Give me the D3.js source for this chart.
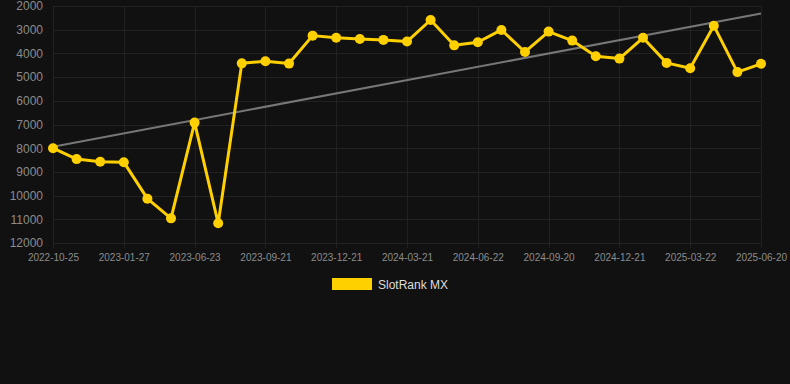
<!DOCTYPE html>
<html>
<head>
<meta charset="utf-8">
<script src="https://cdn.jsdelivr.net/npm/d3@7"></script>
<style>
  html, body { margin: 0; padding: 0; background: #111111; }
  svg { display: block; font-family: "Liberation Sans", Arial, Helvetica, sans-serif; }
</style>
</head>
<body>
<div id="chart"></div>
<script>
// Dates of each sample (every third one is labelled on the axis)
const dates = [
    "2022-10-25", "2022-11-25", "2022-12-27", "2023-01-27", "2023-03-17", "2023-05-05",
    "2023-06-23", "2023-07-23", "2023-08-22", "2023-09-21", "2023-10-21", "2023-11-21",
    "2023-12-21", "2024-01-21", "2024-02-20", "2024-03-21", "2024-04-21", "2024-05-22",
    "2024-06-22", "2024-07-22", "2024-08-21", "2024-09-20", "2024-10-21", "2024-11-21",
    "2024-12-21", "2025-01-21", "2025-02-20", "2025-03-22", "2025-04-21", "2025-05-21",
    "2025-06-20"
];

// SlotRank MX rank values
const rankMX = [
    8000, 8460, 8570, 8590, 10130, 10960, 6920, 11170, 4420, 4330, 4430,
    3250, 3340, 3390, 3430, 3500, 2590, 3660, 3530, 3010, 3940,
    3080, 3460, 4120, 4220, 3340, 4400, 4630, 2830, 4790, 4440
];

const xTickLabels = [
    "2022-10-25", "2023-01-27", "2023-06-23", "2023-09-21", "2023-12-21", "2024-03-21",
    "2024-06-22", "2024-09-20", "2024-12-21", "2025-03-22", "2025-06-20"
];
const yTicks = [2000, 3000, 4000, 5000, 6000, 7000, 8000, 9000, 10000, 11000, 12000];
const seriesName = "SlotRank MX";

const width = 790, height = 384;
const margin = { top: 6, right: 29, bottom: 141, left: 53 };

const svg = d3.select("#chart").append("svg").attr("width", width).attr("height", height);
svg.append("rect").attr("width", width).attr("height", height).attr("fill", "#111111");

const x = d3.scalePoint().domain(dates).range([margin.left, width - margin.right]);
const y = d3.scaleLinear().domain([2000, 12000]).range([margin.top, height - margin.bottom]);

// Grid
const grid = svg.append("g").attr("stroke", "#212121").attr("stroke-width", 1);
grid.selectAll("line.h")
    .data(yTicks)
    .enter()
    .append("line")
    .attr("x1", margin.left)
    .attr("x2", width - margin.right)
    .attr("y1", d => Math.round(y(d)) + 0.5)
    .attr("y2", d => Math.round(y(d)) + 0.5);
grid.selectAll("line.v")
    .data(xTickLabels)
    .enter()
    .append("line")
    .attr("x1", d => Math.round(x(d)) + 0.5)
    .attr("x2", d => Math.round(x(d)) + 0.5)
    .attr("y1", margin.top)
    .attr("y2", height - margin.bottom + 5);

// Y axis
const yAxis = svg.append("g")
    .attr("transform", `translate(${margin.left},0)`)
    .call(d3.axisLeft(y).tickValues(yTicks).tickSize(0).tickPadding(10).tickFormat(d3.format("d")));
yAxis.select(".domain").remove();
yAxis.selectAll("text").attr("fill", "#8c8c8c").attr("font-size", 12);

// X axis
const xAxis = svg.append("g")
    .attr("transform", `translate(0,${height - margin.bottom})`)
    .call(d3.axisBottom(x).tickValues(xTickLabels).tickSize(0).tickPadding(11));
xAxis.select(".domain").remove();
xAxis.selectAll("text").attr("fill", "#8c8c8c").attr("font-size", 10);

// Trend line (least squares over the series)
const idx = rankMX.map((d, i) => i);
const meanI = d3.mean(idx), meanV = d3.mean(rankMX);
const slope = d3.sum(idx, i => (i - meanI) * (rankMX[i] - meanV)) / d3.sum(idx, i => (i - meanI) ** 2);
const trend = idx.map(i => meanV + slope * (i - meanI));
svg.append("path")
    .datum([0, dates.length - 1])
    .attr("fill", "none")
    .attr("stroke", "#777777")
    .attr("stroke-width", 2)
    .attr("d", d3.line().x(i => x(dates[i])).y(i => y(trend[i])));

// Series line
svg.append("path")
    .datum(rankMX)
    .attr("fill", "none")
    .attr("stroke", "#ffd000")
    .attr("stroke-width", 3)
    .attr("stroke-linejoin", "round")
    .attr("d", d3.line().x((d, i) => x(dates[i])).y(d => y(d)));

svg.append("g")
    .selectAll("circle")
    .data(rankMX)
    .enter()
    .append("circle")
    .attr("cx", (d, i) => x(dates[i]))
    .attr("cy", d => y(d))
    .attr("r", 5)
    .attr("fill", "#ffd000");

// Legend
const legend = svg.append("g").attr("transform", "translate(332,278)");
legend.append("rect").attr("width", 40).attr("height", 12).attr("fill", "#ffd000");
legend.append("text")
    .attr("x", 46)
    .attr("y", 10.5)
    .attr("fill", "#dddddd")
    .attr("font-size", 12)
    .text(seriesName);
</script>
</body>
</html>
